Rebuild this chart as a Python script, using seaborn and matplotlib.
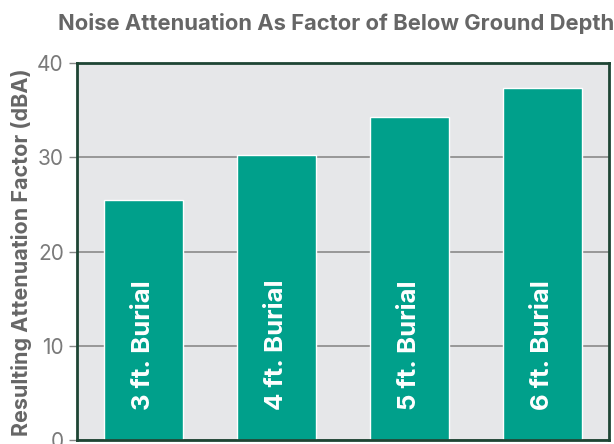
import matplotlib
matplotlib.use("Agg")
import matplotlib.pyplot as plt
import pandas as pd
import seaborn as sns

depths = ["3 ft. Burial", "4 ft. Burial", "5 ft. Burial", "6 ft. Burial"]
attenuation = [25.5, 30.2, 34.3, 37.3]
y_ticks = [0, 10, 20, 30, 40]

df = pd.DataFrame({"Depth": depths, "Attenuation": attenuation})

sns.set_style("white")
plt.rcParams["font.family"] = ["Inter", "DejaVu Sans"]

fig = plt.figure(figsize=(6.14, 4.44), dpi=100)
ax = fig.add_axes([0.1254, 0.009, 0.8665, 0.849])
ax.set_facecolor("#E6E7E9")

ax.yaxis.grid(True, color="#8a8a8a", linewidth=1.2)
ax.set_axisbelow(True)

sns.barplot(data=df, x="Depth", y="Attenuation", color="#00A08B",
            width=0.59, saturation=1, ax=ax)

# labels written up the bars
for i, name in enumerate(depths):
    ax.text(i, 3.2, name, rotation=90, ha="center", va="bottom",
            color="white", fontsize=18.5, fontweight="bold")

ax.set_ylim(0, 40)
ax.set_yticks(y_ticks)
ax.set_xticks([])
ax.set_xlabel("")
ax.tick_params(axis="y", labelsize=15, colors="#888888", length=6, width=1,
               left=True, labelcolor="#7a7a7a")
ax.set_ylabel("Resulting Attenuation Factor (dBA)", fontsize=15.5,
              fontweight="bold", color="#666666")
ax.yaxis.set_label_coords(-0.085, 0.499)

for side in ax.spines.values():
    side.set_color("#1E4534")
    side.set_linewidth(2)

fig.text(0.547, 0.947, "Noise Attenuation As Factor of Below Ground Depth",
         ha="center", va="center", fontsize=15.8, fontweight="bold",
         color="#666666")

fig.savefig("out.png", dpi=100)
